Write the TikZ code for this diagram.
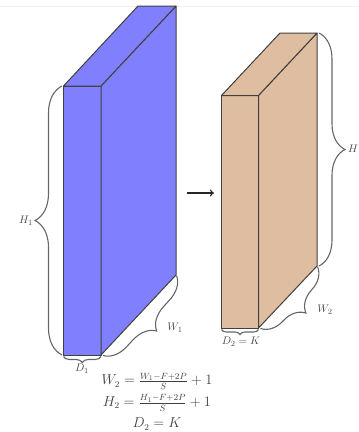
\documentclass[tikz,border=0pt]{standalone}
\usetikzlibrary{decorations.pathreplacing,arrows.meta}
\definecolor{bluefill}{RGB}{128,128,255}
\definecolor{tanfill}{RGB}{223,189,160}
\tikzset{
  slab/.style={draw=black!75,line width=1pt,line join=round},
  curly/.style={draw=black!60,line width=1.1pt,decorate,decoration={brace,amplitude=#1}},
  dimlabel/.style={text=black!70,font=\fontsize{11}{13}\selectfont,inner sep=0pt},
  eqn/.style={text=black!75,font=\fontsize{13.5}{16}\selectfont,inner sep=0pt}
}
\begin{document}
\begin{tikzpicture}[x=1pt,y=-1pt]
\useasboundingbox (0,0) rectangle (359,432);
\draw[black!6,line width=0.6pt] (0,6) -- (359,6);
% blue slab
\coordinate (b1) at (63.5,86);
\coordinate (b2) at (101,86);
\coordinate (b3) at (101,355);
\coordinate (b4) at (63.5,355);
\coordinate (b5) at (138,6);
\coordinate (b6) at (176,6);
\coordinate (b7) at (176,275);
\filldraw[slab,fill=bluefill] (b1) -- (b2) -- (b3) -- (b4) -- cycle;
\filldraw[slab,fill=bluefill] (b2) -- (b6) -- (b7) -- (b3) -- cycle;
\filldraw[slab,fill=bluefill] (b1) -- (b5) -- (b6) -- (b2) -- cycle;
% tan slab
\coordinate (t1) at (221.5,95.5);
\coordinate (t2) at (258.5,95.5);
\coordinate (t3) at (258.5,328);
\coordinate (t4) at (221.5,328);
\coordinate (t5) at (280,33);
\coordinate (t6) at (317,33);
\coordinate (t7) at (317,266);
\filldraw[slab,fill=tanfill] (t1) -- (t2) -- (t3) -- (t4) -- cycle;
\filldraw[slab,fill=tanfill] (t2) -- (t6) -- (t7) -- (t3) -- cycle;
\filldraw[slab,fill=tanfill] (t1) -- (t5) -- (t6) -- (t2) -- cycle;
% braces
\draw[curly=27pt] (62,355) -- (62,86);
\draw[curly=6pt] (101,356.5) -- (63.5,356.5);
\draw[curly=23pt] (176.5,275.5) -- (103,355.5);
\draw[curly=26pt] (319,33) -- (319,266);
\draw[curly=5pt] (258.5,329.5) -- (221.5,329.5);
\draw[curly=23pt] (317.5,266.5) -- (260.5,328.5);
% labels
\node[dimlabel] (h1) at (26,220.5) {$H_1$};
\node[dimlabel] (d1) at (82,368.5) {$D_1$};
\node[dimlabel] (w1) at (175,328) {$W_1$};
\node[dimlabel] (d2) at (241,341.5) {$D_2=K$};
\node[dimlabel] (w2) at (325,310) {$W_2$};
\node[dimlabel] (h2) at (353,148.5) {$H$};
% arrow
\coordinate (a1) at (187,193);
\coordinate (a2) at (214,193);
\draw[black!85,line width=1.1pt,-{To[length=4pt,width=7pt]}] (a1) -- (a2);
% equations
\node[eqn] (e1) at (157,381.5) {$W_2=\frac{W_1-F+2P}{S}+1$};
\node[eqn] (e2) at (157,403) {$H_2=\frac{H_1-F+2P}{S}+1$};
\node[eqn] (e3) at (157,424) {$D_2=K$};
\end{tikzpicture}
\end{document}
